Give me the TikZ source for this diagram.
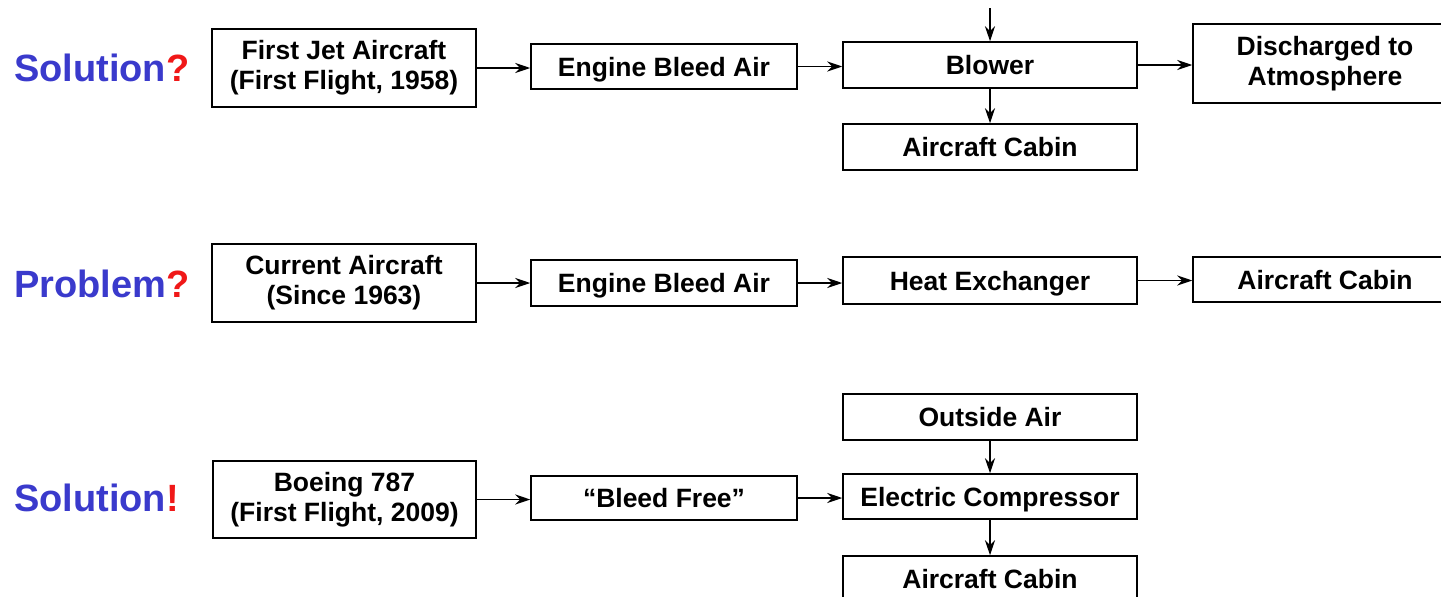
\documentclass[tikz,border=0pt]{standalone}
\usepackage{fontspec}
\setmainfont{Liberation Sans}
\usetikzlibrary{arrows.meta}
\definecolor{lblue}{RGB}{58,58,204}
\definecolor{lred}{RGB}{240,24,24}
\tikzset{
  box/.style={draw=black, line width=1.5pt, inner sep=0pt, align=center,
    font=\bfseries\fontsize{26.5}{30}\selectfont},
  one/.style={text height=19pt, text depth=0pt},
  wbox/.style={box, minimum width=264pt, minimum height=78pt},
  mbox/.style={box, one, minimum width=266pt, minimum height=46pt},
  cbox/.style={box, one, minimum width=294pt, minimum height=46pt},
  rbox/.style={box, minimum width=264pt, minimum height=46pt},
  arr/.style={line width=1.9pt, -{Stealth[length=15pt,width=10pt,inset=5pt]}},
  lbl/.style={anchor=west, inner sep=0pt, font=\bfseries\fontsize{38}{42}\selectfont}
}
\begin{document}
\begin{tikzpicture}[x=1pt,y=-1pt]
\useasboundingbox (0,0) rectangle (1441,597);
\clip (0,0) rectangle (1441,597);
% labels
\node[lbl] (l1) at (14,68) {\textcolor{lblue}{Solution}\textcolor{lred}{?}};
\node[lbl] (l2) at (14,284) {\textcolor{lblue}{Problem}\textcolor{lred}{?}};
\node[lbl] (l3) at (14,498) {\textcolor{lblue}{Solution}\textcolor{lred}{!}};
% row 1
\node[wbox] (j1) at (344,68) {First Jet Aircraft\\(First Flight, 1958)};
\node[mbox, minimum height=45pt] (b1) at (664,66.5) {Engine Bleed Air};
\node[cbox] (bl) at (990,65) {Blower};
\node[cbox] (cab1) at (990,147) {Aircraft Cabin};
\node[rbox, minimum height=79pt] (dis) at (1325,63.5) {Discharged to\\Atmosphere};
\coordinate (top) at (990,8);
\draw[arr] (j1.east) -- (j1.east -| b1.west);
\draw[arr] (b1.east) -- (b1.east -| bl.west);
\draw[arr] (bl.east) -- (bl.east -| dis.west);
\draw[arr] (top) -- (bl.north);
\draw[arr] (bl.south) -- (cab1.north);
% row 2
\node[wbox] (j2) at (344,283) {Current Aircraft\\(Since 1963)};
\node[mbox] (b2) at (664,283) {Engine Bleed Air};
\node[cbox, minimum height=47pt] (hx) at (990,280.5) {Heat Exchanger};
\node[rbox, one, minimum height=45pt] (cab2) at (1325,279.5) {Aircraft Cabin};
\draw[arr] (j2.east) -- (j2.east -| b2.west);
\draw[arr] (b2.east) -- (b2.east -| hx.west);
\draw[arr] (hx.east) -- (hx.east -| cab2.west);
% row 3
\node[wbox, minimum width=263pt, minimum height=77pt] (j3) at (344.5,499.5) {Boeing 787\\(First Flight, 2009)};
\node[mbox, minimum height=44pt] (bf) at (664,498) {“Bleed Free”};
\node[cbox] (oa) at (990,417) {Outside Air};
\node[cbox, minimum height=45pt] (ec) at (990,496.5) {Electric Compressor};
\node[cbox] (cab3) at (990,579) {Aircraft Cabin};
\draw[arr] (j3.east) -- (j3.east -| bf.west);
\draw[arr] (bf.east) -- (bf.east -| ec.west);
\draw[arr] (oa.south) -- (ec.north);
\draw[arr] (ec.south) -- (cab3.north);
\end{tikzpicture}
\end{document}
